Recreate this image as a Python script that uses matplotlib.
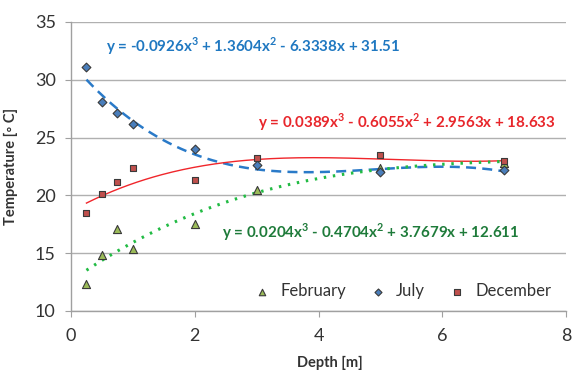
import numpy as np
import matplotlib.pyplot as plt

# depths and measured temperatures
depth = [0.25, 0.5, 0.75, 1, 2, 3, 5, 7]
feb = [12.3, 14.8, 17.1, 15.4, 17.5, 20.5, 22.4, 22.8]
jul = [31.1, 28.1, 27.1, 26.2, 24.0, 22.6, 22.05, 22.2]
dec = [18.5, 20.1, 21.2, 22.4, 21.3, 23.2, 23.5, 23.0]

# trend line coefficients (3rd order polynomial, highest power first)
feb_coef = [0.0204, -0.4704, 3.7679, 12.611]
jul_coef = [-0.0926, 1.3604, -6.3338, 31.51]
dec_coef = [0.0389, -0.6055, 2.9563, 18.633]

plt.rcParams['font.family'] = ['Lato', 'DejaVu Sans']
plt.rcParams['mathtext.fontset'] = 'custom'
plt.rcParams['mathtext.rm'] = 'Lato:bold'
plt.rcParams['mathtext.bf'] = 'Lato:bold'

fig = plt.figure(figsize=(5.79, 3.72), dpi=100)
ax = fig.add_axes([0.1226, 0.164, 0.855, 0.777])

xs = np.linspace(0.25, 7, 200)
ax.plot(xs, np.polyval(jul_coef, xs), color='#2A7AC8', lw=1.8, ls=(0, (4, 2.5)))
ax.plot(xs, np.polyval(dec_coef, xs), color='#F0262B', lw=1.0)
ax.plot(xs, np.polyval(feb_coef, xs), color='#22BB44', lw=2.2, ls=(0, (0.8, 2.2)))

ax.scatter(depth, feb, marker='^', s=34, color='#9BBB59', edgecolor='#3A3A3A', lw=0.8, label='February', zorder=3)
ax.scatter(depth, jul, marker='D', s=20, color='#4A7EBB', edgecolor='#3A3A3A', lw=0.8, label='July', zorder=3)
ax.scatter(depth, dec, marker='s', s=22, color='#C0504D', edgecolor='#3A3A3A', lw=0.8, label='December', zorder=3)


def poly_label(c):
    s = 'y = '
    for i, (v, p) in enumerate(zip(c, [3, 2, 1, 0])):
        num = f'{abs(v):g}'
        if i == 0:
            s += ('-' if v < 0 else '') + num
        else:
            s += (' - ' if v < 0 else ' + ') + num
        if p > 1:
            s += 'x$^{' + str(p) + '}$'
        elif p == 1:
            s += 'x'
    return s


eq_font = dict(fontsize=10.9, fontweight='bold', va='center')
ax.text(0.565, 32.9, poly_label(jul_coef), color='#1F78C1', **eq_font)
ax.text(3.02, 26.35, poly_label(dec_coef), color='#E8262B', **eq_font)
ax.text(2.44, 16.8, poly_label(feb_coef), color='#1E7B3A', **eq_font)

ax.set_xlim(0, 8)
ax.set_ylim(10, 35)
ax.set_xticks([0, 2, 4, 6, 8])
ax.set_yticks([10, 15, 20, 25, 30, 35])
ax.yaxis.grid(True, color='#B0B0B0', lw=1)
ax.set_axisbelow(True)
for s in ['top', 'right']:
    ax.spines[s].set_visible(False)
for s in ['left', 'bottom']:
    ax.spines[s].set_color('#A0A0A0')
    ax.spines[s].set_linewidth(1)
ax.tick_params(colors='#A0A0A0', labelcolor='#333333', labelsize=13, length=4, direction='out')
ax.tick_params(axis='x', pad=8)
ax.tick_params(axis='y', pad=7)
ax.set_xlabel('Depth [m]', fontsize=10.5, fontweight='bold', color='#333333')
ax.set_ylabel('Temperature [◦ C]', fontsize=10.5, fontweight='bold', color='#333333')
ax.xaxis.set_label_coords(0.523, -0.155)
ax.yaxis.set_label_coords(-0.108, 0.5)

ax.legend(loc='lower right', bbox_to_anchor=(1.0, -0.01), ncol=3, frameon=False, fontsize=12,
          handletextpad=0.1, columnspacing=0.9, markerscale=0.8, labelcolor='#333333')

plt.savefig('out.png', dpi=100)
